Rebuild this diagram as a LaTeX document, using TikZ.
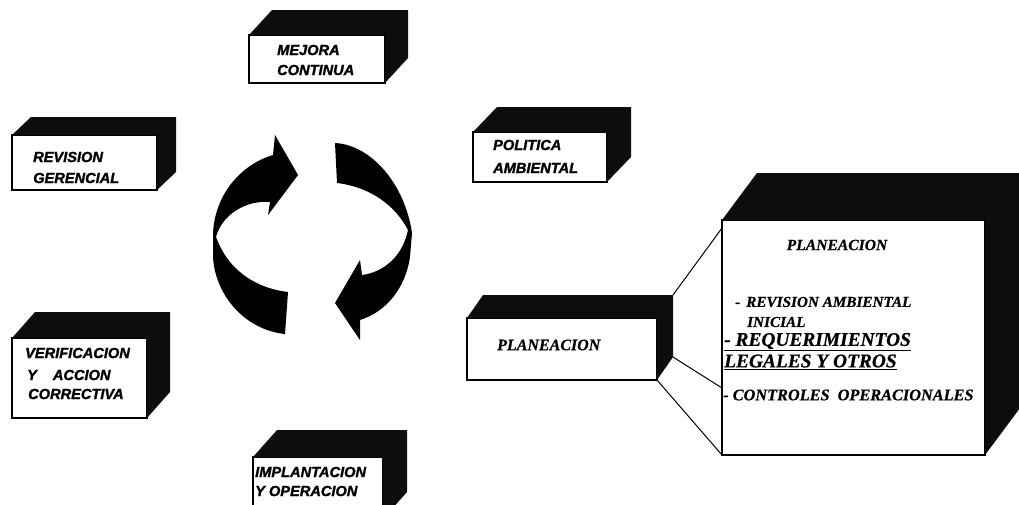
\documentclass[tikz,border=0pt]{standalone}
\usepackage{fontspec}
\setmainfont[BoldItalicFeatures={FakeBold=0.6}]{Liberation Serif}
\newfontfamily\stagefont[BoldItalicFeatures={FakeBold=1.6}]{Liberation Sans}
\usetikzlibrary{calc}
\tikzset{
  face/.style={draw=black, line width=1.2pt, fill=white, anchor=north west, inner sep=0pt, outer sep=0pt},
  shade3d/.style={fill=black!95},
  stage/.style={font=\stagefont\bfseries\itshape\fontsize{14.6}{17}\selectfont, anchor=west, inner sep=0pt},
  serifit/.style={font=\bfseries\itshape\fontsize{#1}{#1}\selectfont, anchor=west, inner sep=0pt},
  link/.style={draw=black, line width=1pt},
  cyclearrow/.style={fill=black},
}
% top and right faces of a block whose front face is the node #1
\newcommand\facedepth[3]{%
  \fill[shade3d] (#1.north west) -- ++(#2,#3) -- ($(#1.north east)+(#2,#3)$)
    -- ($(#1.south east)+(#2,#3)$) -- (#1.south east) -- (#1.north east) -- cycle;}

\begin{document}
\begin{tikzpicture}[x=1pt,y=-1pt]
\useasboundingbox (0,0) rectangle (1019,504);
\clip (0,0) rectangle (1019,504);
\fill[white] (0,0) rectangle (1019,504);

% ---- blocks ----
\node[face, minimum width=136pt, minimum height=48pt] (mejora) at (249,35) {};
\facedepth{mejora}{23}{-25}
\node[face, minimum width=145pt, minimum height=55pt] (revision) at (12,135) {};
\facedepth{revision}{19}{-18}
\node[face, minimum width=134pt, minimum height=50pt] (politica) at (473,132) {};
\facedepth{politica}{24}{-25}
\node[face, minimum width=135pt, minimum height=80pt] (verificacion) at (12,338) {};
\facedepth{verificacion}{23}{-26}
\node[face, minimum width=130pt, minimum height=62pt] (implantacion) at (253,457) {};
\facedepth{implantacion}{24}{-27}
\node[face, minimum width=190pt, minimum height=62pt] (plansmall) at (467,318) {};
\facedepth{plansmall}{16}{-23}
\node[face, minimum width=263pt, minimum height=235pt] (planbig) at (722,220) {};
\facedepth{planbig}{35}{-47}

% ---- links from the small block to the detailed one ----
\coordinate (pa) at ($(plansmall.north east)+(16,-23)$);
\coordinate (pb) at ($(plansmall.south east)+(16,-23)$);
\coordinate (ba) at ($(planbig.north west)+(0,8)$);
\coordinate (bb) at ($(planbig.north west)+(0,168)$);
\draw[link] (pa) -- (ba);
\draw[link] (pb) -- (bb);
\draw[link] (plansmall.south east) -- (planbig.south west);

% ---- cycle arrows ----
\fill[cyclearrow] (285,334) .. controls (245,330) and (215,295) .. (213,257)
  -- (213,233) .. controls (215,195) and (240,165) .. (273,155)
  -- (275,135) -- (298,175) -- (268,215) -- (270,202)
  .. controls (245,200) and (222,215) .. (216,237)
  .. controls (228,270) and (255,288) .. (288,292) -- cycle;
\fill[cyclearrow] (335,143) .. controls (372,145) and (405,185) .. (412,233)
  -- (410,257) .. controls (405,290) and (385,312) .. (360,320)
  -- (360,340) -- (335,303) -- (360,260) -- (362,275)
  .. controls (385,272) and (403,255) .. (408,230)
  .. controls (395,205) and (370,187) .. (337,183) -- cycle;

% ---- block labels ----
\node[stage] (t1) at (277,50) {MEJORA};
\node[stage] (t2) at (277,70) {CONTINUA};
\node[stage] (t3) at (33,157) {REVISION};
\node[stage] (t4) at (33,178) {GERENCIAL};
\node[stage] (t5) at (493,145) {POLITICA};
\node[stage] (t6) at (493,168) {AMBIENTAL};
\node[stage] (t7) at (25,353) {VERIFICACION};
\node[stage] (t8) at (27,375) {Y\hspace{16pt}ACCION};
\node[stage] (t9) at (28,394) {CORRECTIVA};
\node[stage] (t10) at (255,472) {IMPLANTACION};
\node[stage] (t11) at (255,491) {Y OPERACION};
\node[serifit=16] (t12) at (497,345) {PLANEACION};

% ---- detail of the planning stage ----
\node[serifit=15.6, anchor=center] (d1) at (837,245) {PLANEACION};
\node[serifit=15.2] (d2) at (735,302) {-\hspace{6pt}REVISION AMBIENTAL};
\node[serifit=15.2] (d3) at (747,322) {INICIAL};
\node[serifit=19.4] (d4) at (724,342) {\underline{- REQUERIMIENTOS}};
\node[serifit=19.4] (d5) at (724,362) {\underline{LEGALES Y OTROS}};
\node[serifit=16.3] (d6) at (723,395) {- CONTROLES\hspace{4pt} OPERACIONALES};
\end{tikzpicture}
\end{document}
